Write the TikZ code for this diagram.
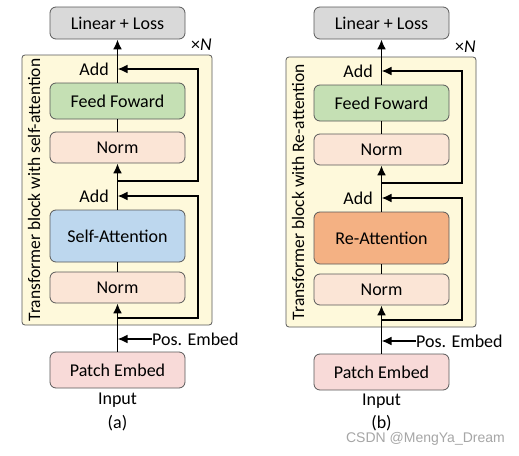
\documentclass[tikz,border=0pt]{standalone}
\usepackage{fontspec}
\setmainfont{Carlito}
\newfontfamily\wmfont{Liberation Sans}
\usetikzlibrary{arrows.meta}
\definecolor{bordc}{HTML}{595959}
\definecolor{linc}{HTML}{D9D9D9}
\definecolor{blkc}{HTML}{FEF9DB}
\definecolor{ffc}{HTML}{C5E0B4}
\definecolor{normc}{HTML}{FBE5D6}
\definecolor{sac}{HTML}{BDD7EE}
\definecolor{rac}{HTML}{F4B183}
\definecolor{pec}{HTML}{F8DAD8}
\tikzset{
  box/.style={draw=bordc, line width=0.8pt, rounded corners=6pt, minimum width=135pt, inner sep=0pt, font=\fontsize{18}{19}\selectfont, text=black},
  blockbg/.style={draw=bordc, line width=0.8pt, fill=blkc, rounded corners=3pt},
  flow/.style={line width=1.9pt, black},
  arr/.style={flow, -{Latex[length=10pt,width=9pt]}},
  lbl/.style={font=\fontsize{18}{19}\selectfont, inner sep=0pt},
  rotlbl/.style={font=\fontsize{17.5}{18}\selectfont, inner sep=0pt, rotate=90},
}
\newcommand{\drawpanel}[4]{%
  % #1 attention text, #2 attention colour, #3 rotated label, #4 caption
  \path[blockbg] (22,55) rectangle (212,325);
  \node[box, fill=ffc, minimum height=36pt] (ff) at (117.5,101) {Feed Foward};
  \node[box, fill=normc, minimum height=31pt] (n2) at (117.5,147.5) {Norm};
  \node[box, fill=#2, minimum height=52pt] (att) at (117.5,236) {#1};
  \node[box, fill=normc, minimum height=31pt] (n1) at (117.5,287.5) {Norm};
  \node[box, fill=pec, minimum height=36pt] (pe) at (117.5,370) {Patch Embed};
  \coordinate (a1) at (117.5,69);
  \coordinate (a2) at (117.5,196);
  \coordinate (s1) at (117.5,181);
  \coordinate (s2) at (117.5,318);
  \coordinate (pp) at (117.5,339);
  \coordinate (r1) at (198,181);
  \coordinate (r2) at (198,318);
  \coordinate (pos) at (152,339);
  \node[lbl, anchor=east] (add1) at (109,69) {Add};
  \node[lbl, anchor=east] (add2) at (109,196) {Add};
  \node[lbl, anchor=west] (posl) at (pos) {Pos. Embed};
  \node[lbl, anchor=east] (xn) at (212,45) {×\textit{N}};
  \node[rotlbl] (rot) at (34,190) {#3};
  \draw[arr] (pe.north) -- (n1.south);
  \draw[flow] (n1.north) -- (att.south);
  \draw[arr] (att.north) -- (n2.south);
  \draw[flow] (n2.north) -- (ff.south);
  \draw[arr] (s2) -- (r2) |- (a2);
  \draw[arr] (s1) -- (r1) |- (a1);
  \draw[arr] (posl.west) -- (pp);
}
\begin{document}
\begin{tikzpicture}[x=1pt,y=-1pt]
\useasboundingbox (0,0) rectangle (519,455);
\fill[white] (0,0) rectangle (519,455);
\begin{scope}[name prefix=a-]
\drawpanel{Self-Attention}{sac}{Transformer block with self-attention}{(a)}
\end{scope}
\begin{scope}[xshift=264pt, yshift=-2pt, name prefix=b-]
\drawpanel{Re-Attention}{rac}{Transformer block with Re-attention}{(b)}
\end{scope}
\begin{scope}[name prefix=a-]
  \node[box, fill=linc, minimum height=32pt] (lin) at (117.5,23) {Linear + Loss};
  \draw[arr] (ff.north) -- (lin.south);
  \node[lbl] (inp) at (117.5,400) {Input};
  \node[lbl] (cap) at (117.5,423) {(a)};
\end{scope}
\begin{scope}[xshift=264pt, name prefix=b-]
  \node[box, fill=linc, minimum height=32pt] (lin) at (117.5,23) {Linear + Loss};
  \draw[arr] (ff.north) -- (lin.south);
  \node[lbl] (inp) at (117.5,401) {Input};
  \node[lbl] (cap) at (117.5,423) {(b)};
\end{scope}
\node[font=\wmfont\fontsize{14}{15}\selectfont, text=black!35, anchor=east, inner sep=0pt] (wm) at (505,439) {CSDN @MengYa\_Dream};
\end{tikzpicture}
\end{document}
